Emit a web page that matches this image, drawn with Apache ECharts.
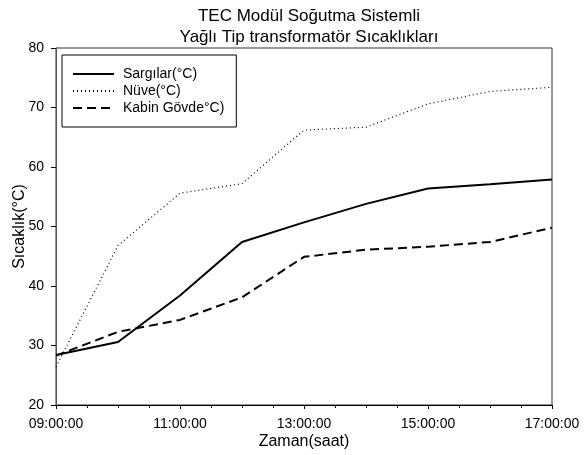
<!DOCTYPE html>
<html>
<head>
<meta charset="utf-8">
<script src="https://cdn.jsdelivr.net/npm/echarts@6/dist/echarts.min.js"></script>
<style>
  html, body { margin: 0; padding: 0; background: #fff; }
  #main { width: 584px; height: 455px; }
</style>
</head>
<body>
<div id="main"></div>
<script>
var times = ['09:00:00', '10:00:00', '11:00:00', '12:00:00', '13:00:00', '14:00:00', '15:00:00', '16:00:00', '17:00:00'];
var sargilar = [28.4, 30.6, 38.4, 47.4, 50.7, 53.8, 56.4, 57.1, 57.9];
var nuve = [26.4, 46.8, 55.6, 57.2, 66.2, 66.7, 70.6, 72.7, 73.4];
var kabin = [28.3, 32.3, 34.3, 38.1, 44.9, 46.1, 46.6, 47.4, 49.8];

function toHour(t) {
  var p = t.split(':');
  return +p[0] + (+p[1]) / 60;
}
function pairs(vals) {
  return times.map(function (t, i) { return [toHour(t), vals[i]]; });
}
function pad(n) { return (n < 10 ? '0' : '') + n; }

var font = 'Liberation Sans, Arial, sans-serif';
var myChart = echarts.init(document.getElementById('main'));
var option = {
  animation: false,
  title: {
    text: 'TEC Modül Soğutma Sistemli\nYağlı Tip transformatör Sıcaklıkları',
    left: 304,
    textAlign: 'center',
    top: 1,
    textStyle: { fontFamily: font, fontSize: 17, fontWeight: 'normal', color: '#000', lineHeight: 21 }
  },
  legend: {
    orient: 'vertical',
    left: 62,
    top: 55,
    padding: [12, 12, 12, 10],
    borderColor: '#000',
    borderWidth: 1,
    itemWidth: 41,
    itemHeight: 14,
    itemGap: 3,
    textStyle: { fontFamily: font, fontSize: 14, color: '#000', padding: [0, 0, 0, 4] },
    itemStyle: { opacity: 0 },
    data: ['Sargılar(°C)', 'Nüve(°C)', 'Kabin Gövde°C)']
  },
  grid: {
    left: 56, right: 32, top: 48, bottom: 50,
    outerBoundsMode: 'none',
    containLabel: false,
    show: true, borderColor: '#333', borderWidth: 1
  },
  xAxis: {
    type: 'value',
    min: 9, max: 17, interval: 2,
    name: 'Zaman(saat)',
    nameLocation: 'middle',
    nameGap: 29,
    nameMoveOverlap: false,
    nameTextStyle: { fontFamily: font, fontSize: 16, color: '#000' },
    axisLine: { lineStyle: { color: '#000' } },
    axisTick: { inside: false, length: 4, lineStyle: { color: '#000' } },
    minorTick: { show: true, splitNumber: 4, length: 3, lineStyle: { color: '#000' } },
    splitLine: { show: false },
    axisLabel: {
      fontFamily: font, fontSize: 14, color: '#000', margin: 12,
      formatter: function (v) { return pad(Math.round(v)) + ':00:00'; }
    }
  },
  yAxis: {
    type: 'value',
    min: 20, max: 80, interval: 10,
    name: 'Sıcaklık(°C)',
    nameLocation: 'middle',
    nameGap: 28,
    nameMoveOverlap: false,
    nameTextStyle: { fontFamily: font, fontSize: 16, color: '#000' },
    axisLine: { show: true, lineStyle: { color: '#555' } },
    axisTick: { show: true, inside: false, length: 5, lineStyle: { color: '#000' } },
    splitLine: { show: false },
    axisLabel: { fontFamily: font, fontSize: 14, color: '#000', margin: 12 }
  },
  series: [
    {
      name: 'Sargılar(°C)', type: 'line', showSymbol: false, symbol: 'none',
      lineStyle: { color: '#000', width: 2, type: 'solid' },
      itemStyle: { color: '#000' },
      data: pairs(sargilar)
    },
    {
      name: 'Nüve(°C)', type: 'line', showSymbol: false, symbol: 'none',
      lineStyle: { color: '#000', width: 1.2, type: [1, 3] },
      itemStyle: { color: '#000' },
      data: pairs(nuve)
    },
    {
      name: 'Kabin Gövde°C)', type: 'line', showSymbol: false, symbol: 'none',
      lineStyle: { color: '#000', width: 2, type: [9, 5] },
      itemStyle: { color: '#000' },
      data: pairs(kabin)
    }
  ]
};
myChart.setOption(option);
</script>
</body>
</html>
